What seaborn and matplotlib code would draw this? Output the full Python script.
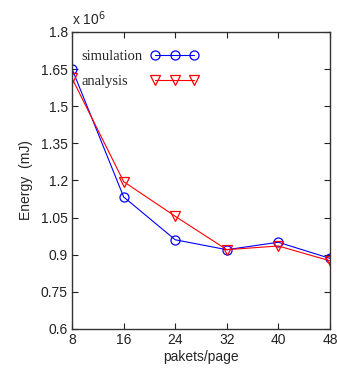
import matplotlib
matplotlib.use("Agg")
import matplotlib.pyplot as plt
import seaborn as sns
import pandas as pd

x_vals = [8, 16, 24, 32, 40, 48]
simulation = [1.65, 1.133, 0.96, 0.92, 0.95, 0.885]
analysis = [1.612, 1.195, 1.055, 0.92, 0.935, 0.875]
series_names = ["simulation", "analysis"]
y_ticks = [0.6, 0.75, 0.9, 1.05, 1.2, 1.35, 1.5, 1.65, 1.8]
y_tick_labels = ["0.6", "0.75", "0.9", "1.05", "1.2", "1.35", "1.5", "1.65", "1.8"]

df = pd.DataFrame({
    "x": x_vals * 2,
    "y": simulation + analysis,
    "series": [series_names[0]] * len(x_vals) + [series_names[1]] * len(x_vals),
})

sns.set_style("white")
plt.rcParams["font.family"] = ["Liberation Sans", "DejaVu Sans"]

fig = plt.figure(figsize=(3.37, 3.72), dpi=100)
ax = fig.add_axes([0.214, 0.116, 0.765, 0.798])

colors = {"simulation": "#0000ff", "analysis": "#ff0000"}
sns.lineplot(data=df, x="x", y="y", hue="series", style="series",
             palette=colors,
             markers={"simulation": "o", "analysis": "v"},
             dashes=False, markersize=6.5, linewidth=0.8,
             markeredgewidth=0.9, ax=ax, legend=False)
for ln in ax.lines:
    ln.set_markerfacecolor("none")
    ln.set_markeredgecolor(ln.get_color())

ax.set_xlim(8, 48)
ax.set_ylim(0.6, 1.8)
ax.set_xticks(x_vals)
ax.set_xticklabels([str(v) for v in x_vals], fontsize=10)
ax.set_yticks(y_ticks)
ax.set_yticklabels(y_tick_labels, fontsize=10)
ax.tick_params(direction="in", length=4, width=0.8, top=True, right=True,
               bottom=True, left=True, pad=3, colors="#222222", labelcolor="#222222")
for sp in ax.spines.values():
    sp.set_color("#333333")
    sp.set_linewidth(1.0)

ax.set_xlabel("pakets/page", fontsize=10, labelpad=2)
ax.set_ylabel("Energy  (mJ)", fontsize=10, labelpad=6)
ax.text(0.0, 1.012, "x 10$^6$", transform=ax.transAxes, fontsize=10,
        ha="left", va="bottom")

# legend: text column (left aligned) and handle column as two legends
blank = [plt.Line2D([], [], lw=0, marker=None) for _ in series_names]
leg1 = ax.legend(blank, series_names, loc="upper left", bbox_to_anchor=(0.035, 0.94),
                 frameon=False, handlelength=0, handletextpad=0, labelspacing=0.8,
                 borderpad=0, borderaxespad=0,
                 prop={"family": "Liberation Serif", "size": 10.5})
ax.add_artist(leg1)
handles = [
    plt.Line2D([], [], color=colors["simulation"], marker="o", markersize=6.5, lw=0.8,
               markerfacecolor="none", markeredgewidth=0.9),
    plt.Line2D([], [], color=colors["analysis"], marker="v", markersize=6.5, lw=0.8,
               markerfacecolor="none", markeredgewidth=0.9),
]
ax.legend(handles, [" ", " "], loc="upper left", bbox_to_anchor=(0.305, 0.94),
          frameon=False, numpoints=3, handlelength=3.3, handletextpad=0,
          labelspacing=0.8, borderpad=0, borderaxespad=0,
          prop={"family": "Liberation Serif", "size": 10.5})

fig.savefig("out.png", dpi=100, facecolor="white")
